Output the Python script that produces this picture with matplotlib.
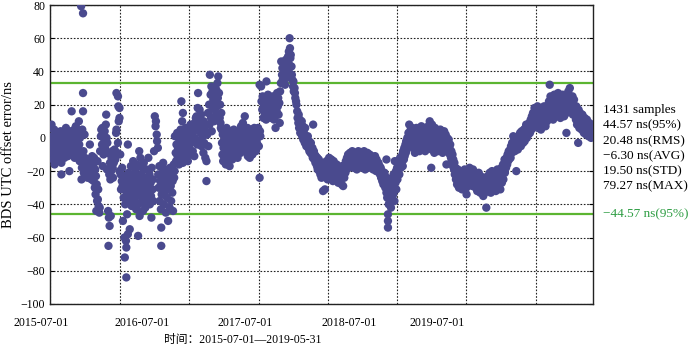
import numpy as np
import pandas as pd
import matplotlib
matplotlib.use("Agg")
import matplotlib.pyplot as plt

# daily BDS-UTC offset error
# (day offset from 2015-07-01, error in ns), grouped by period

# 2015-07 .. 2016-01
g1_day = [
    0, 1, 2, 4, 5, 6, 8, 9, 11, 12,
    13, 15, 16, 18, 19, 21, 22, 24, 25, 27,
    28, 30, 30, 32, 33, 35, 36, 38, 39, 41,
    42, 44, 45, 47, 48, 50, 51, 53, 54, 56,
    57, 58, 59, 61, 62, 64, 65, 67, 68, 70,
    71, 73, 74, 76, 77, 78, 79, 81, 82, 83,
    84, 85, 86, 87, 87, 87, 88, 89, 90, 91,
    92, 93, 95, 96, 98, 99, 101, 102, 104, 105,
    106, 108, 109, 111, 112, 114, 115, 116, 118, 119,
    120, 121, 122, 123, 124, 125, 126, 127, 128, 130,
    131, 132, 134, 135, 137, 138, 139, 140, 141, 143,
    144, 145, 147, 148, 149, 150, 151, 152, 153, 154,
    155, 156, 157, 158, 159, 160, 161, 162, 164, 165,
    166, 168, 170, 172, 174, 175, 175, 177, 179, 179,
    180, 181, 183, 183, 183, 185, 186, 187, 189, 190,
]
g1_ns = [
    6, -2, -9, 8, -4, 1, -13, -7, 5, -16,
    -1, -10, 3, -5, -12, -3, 2, -8, -11, 0,
    4, -22, -15, -6, -2, 3, -9, -12, 1, -4,
    6, -7, -1, -11, 3, -5, -20, 0, -8, 4,
    16, -3, -10, 2, -6, 5, -12, -2, 7, -9,
    -1, 3, -7, 10, -4, -14, 0, -10, 79.27, -25,
    -18, 5, -13, 75, 27, 16, -8, -21, -15, 2,
    -12, -23, -17, -20, -13, -24, -16, -19, -22, -4,
    -14, -18, -25, -11, -21, -16, -26, -12, -30, -19,
    -34, -23, -44, -28, -38, -14, -37, -31, -41, -45,
    -42, -8, 1, 5, -4, 6, -17, 2, -10, -1,
    4, -6, 8, 14, 0, -19, -3, -9, -44, -65,
    -48, -22, -53, -15, -25, -47, -20, -12, -8, -18,
    -24, -15, -7, -13, 3, 27, 5, -9, 25, -3,
    19, 10, 18, 12, -20, -10, -22, -31, -26, -18,
]

# 2016-01 .. 2016-08
g2_day = [
    191, 192, 194, 195, 196, 197, 198, 199, 200, 201,
    201, 202, 203, 204, 205, 205, 206, 207, 208, 210,
    211, 212, 213, 215, 216, 217, 219, 220, 221, 223,
    224, 225, 227, 228, 229, 230, 231, 232, 233, 235,
    236, 237, 238, 240, 241, 242, 243, 244, 245, 246,
    247, 248, 250, 251, 253, 254, 255, 257, 258, 259,
    261, 262, 263, 265, 266, 267, 268, 270, 271, 272,
    274, 276, 278, 279, 281, 282, 284, 285, 286, 288,
    289, 290, 292, 293, 293, 294, 296, 297, 298, 300,
    301, 303, 304, 305, 307, 308, 310, 311, 312, 314,
    315, 316, 318, 319, 320, 322, 323, 324, 326, 327,
    328, 329, 331, 332, 333, 335, 336, 337, 339, 340,
    341, 343, 344, 345, 346, 347, 348, 350, 350, 351,
    353, 354, 355, 357, 358, 359, 361, 362, 363, 364,
    366, 367, 369, 370, 372, 373, 374, 376, 377, 378,
    380, 381, 382, 384, 385, 386, 388, 389, 390, 391,
    393, 394, 395, 397, 398, 399, 401, 402, 404, 405,
    406, 408, 409, 410, 412, 412,
]
g2_ns = [
    -29, -50, -36, -23, -60, -72, -40, -28, -62, -84,
    -66, -33, -46, -25, -58, -4, -38, -21, -30, -55,
    -27, -35, -17, -41, -24, -32, -14, -38, -28, -22,
    -36, -19, -43, -30, -16, -33, -25, -59, -40, -8,
    -47, -29, -12, -35, -22, -38, -18, -31, -44, -26,
    -15, -36, -24, -42, -28, -19, -33, -26, -38, -12,
    -30, -22, -40, -27, -35, -48, -18, -31, -25, -38,
    -8, 13, 7, 10, 2, -2, -6, -22, -30, -17,
    -38, -26, -43, -54, -65, -34, -21, -28, -15, -40,
    -24, -32, -19, -45, -27, -36, -22, -50, -31, -25,
    -42, -18, -29, -38, -21, -33, -26, -44, -16, -24,
    -20, 1, -9, -14, -4, 3, -11, -6, 0, -16,
    -2, -8, 5, -12, 22, -3, 10, 15, -15, -7,
    2, -10, -4, 6, -13, -1, -8, 4, -14, -5,
    -6, 3, -10, 8, 1, -3, 7, -8, -1, 4,
    -11, 9, 0, 12, 5, 13, -4, 18, 27, 8,
    -2, 17, 11, 3, 14, -5, 7, 1, -9, 10,
    -3, 5, -12, 2, -14, -26,
]

# 2016-08 .. 2017-07
g3_day = [
    414, 416, 417, 419, 420, 421, 423, 424, 425, 426,
    428, 429, 430, 432, 433, 434, 436, 437, 438, 440,
    441, 442, 443, 444, 445, 447, 448, 449, 450, 451,
    452, 453, 454, 455, 456, 457, 458, 459, 460, 461,
    462, 463, 464, 465, 466, 467, 468, 469, 470, 471,
    472, 473, 474, 476, 477, 478, 479, 480, 482, 483,
    484, 485, 487, 488, 489, 491, 492, 493, 494, 495,
    496, 497, 499, 500, 502, 503, 504, 506, 507, 508,
    510, 511, 512, 513, 515, 516, 517, 519, 520, 521,
    523, 524, 525, 526, 528, 529, 530, 532, 533, 534,
    536, 537, 538, 540, 541, 542, 544, 545, 546, 548,
    549, 550, 552, 552, 553, 554,
    556, 557, 559, 560, 562, 563, 565, 566, 567, 569,
    570, 571, 573, 574, 575, 577, 578, 579, 581, 582,
    583, 585, 586, 587, 589, 590, 591, 593, 594, 595,
    597, 598, 600, 601, 602, 604, 605, 606,
    608, 609, 611, 612, 613, 615, 616, 617, 619, 620,
    621, 622, 624, 625, 626, 627, 628, 629, 630, 631,
    632, 633, 634, 636, 637, 638, 640, 641, 642, 644,
    645, 646, 648, 649,
    651, 652, 654, 655, 656, 658, 659, 660, 662, 663,
    664, 666, 667, 668, 670, 671, 672, 674, 675, 676,
    678, 679, 680, 682, 683, 684, 686, 687, 688, 690,
    691, 692, 693, 695, 696, 697, 699, 700, 701, 703,
    704, 705, 707, 708, 709, 711, 712, 713, 715, 716,
    717, 719, 720, 721, 723,
]
g3_ns = [
    2, 15, -5, 20, 8, 38, 26, 12, 31, 4,
    28, 18, 23, 10, 21, 17, 25, 14, 29, 19,
    33, 24, 37, 13, 27, 12, 20, 9, 6, 15,
    5, -3, -10, 2, -14, -6, 4, -1, -12, -8,
    3, -16, -5, 6, -9, 0, -13, -4, 1, -11,
    -7, -17, 4, -2, -10, -6, 2, -13, -1, -8,
    5, -4, -11, 0, -7, 3, -9, -2, -12, -5,
    -2, 4, -6, 1, -9, 7, -3, 3, -7, 9,
    0, -4, 5, 13, -1, -8, 2, -5, 6, -11,
    -3, 3, -9, -12, 1, -6, 5, -2, -10, 4,
    -1, -7, 6, -4, 2, -8, 5, -3, 0, 6,
    3, -5, -24, 32, 4, 1,
    31, 22, 17, 25, 12, 20, 15, 24, 18, 11,
    34, 21, 14, 26, 19, 13, 23, 16, 21, 12,
    23, 18, 14, 25, 17, 11, 20, 13, 6, 22,
    16, 27, 19, 24, 14, 21, 9, 28,
    33, 46, 38, 42, 35, 41, 37, 44, 32, 40,
    47, 36, 43, 39, 45, 49, 41, 52, 44, 60,
    54, 48, 50, 43, 38, 35, 31, 34, 28, 30,
    27, 24, 22, 20,
    16, 12, 9, 14, 6, 11, 3, 8, 5, 10,
    1, 7, -1, 4, 2, -3, 6, 0, -5, -2,
    -4, 1, -6, -2, -8, -5, -9, -3, -7, -10,
    -6, -12, 8, -8, -13, -10, -15, -11, -14, -17,
    -12, -19, -16, -13, -20, -15, -22, -18, -24, -16,
    -21, -32, -19, -23, -17,
]

# 2017-07 .. 2018-06
g4_day = [
    724, 725, 727, 728, 729, 731, 732, 733, 735, 736,
    737, 739, 740, 741, 743, 744, 745, 747, 748, 749,
    751, 752, 753, 755, 756, 757, 759, 760, 761, 763,
    764, 765, 767, 768, 769, 771, 772, 773,
    775, 776, 778, 779, 781, 782, 784, 785, 787, 788,
    790, 791, 793, 794, 796, 797, 799, 800, 802, 803,
    805, 806, 808, 809, 811, 812, 814, 815, 817, 818,
    820, 821, 823, 824, 826, 827, 829, 830, 832, 833,
    835, 836, 838, 839, 841, 842, 844, 845, 847, 848,
    850, 851, 853, 854, 856, 857, 859, 860, 862, 863,
    865, 866, 868, 869, 871, 872, 874, 875, 877, 878,
    880, 881, 883, 884, 886, 886, 887, 888, 889, 890,
    890, 890, 891, 892, 893, 894, 895, 896, 898, 899,
    900, 901, 902, 904, 905, 906, 907, 908, 908, 910,
    911, 912, 914, 915, 916,
    917, 918, 920, 921, 922, 924, 925, 926, 928, 929,
    930, 932, 933, 934, 936, 937, 938, 940, 941, 942,
    944, 945, 946, 948, 949, 950, 952, 953, 954, 956,
    957, 958, 960, 961, 962, 964, 965, 966, 968, 969,
    970, 972, 973, 974, 976, 977, 978, 980, 981, 982,
    984, 985, 986, 988, 989, 990, 992, 993, 994, 996,
    997, 998, 1000, 1001, 1002, 1004, 1005, 1006, 1008, 1009,
    1010, 1012, 1013, 1014, 1016, 1017, 1018, 1020, 1021, 1022,
    1024, 1025, 1026, 1028, 1029, 1030, 1032, 1033, 1034, 1036,
    1037, 1038, 1040, 1041, 1042, 1044, 1045, 1046, 1048, 1049,
    1050, 1052, 1053, 1054, 1056, 1057,
]
g4_ns = [
    -31, -18, -22, -14, -20, -25, -16, -21, -12, -19,
    -24, -15, -20, -13, -22, -18, -26, -14, -21, -17,
    -23, -19, -25, -16, -22, -20, -27, -18, -24, -21,
    -26, -19, -23, -28, -17, -22, -29, -20,
    -24, -17, -21, -14, -19, -12, -18, -10, -16, -13,
    -9, -17, -11, -15, -8, -14, -18, -10, -16, -12,
    -9, -15, -19, -11, -14, -8, -17, -12, -10, -16,
    -13, -9, -18, -11, -15, -8, -14, -19, -10, -13,
    -16, -9, -12, -17, -14, -10, -18, -13, -11, -16,
    -12, -19, -14, -17, -11, -15, -20, -13, -18, -16,
    -15, -19, -17, -22, -18, -24, -20, -26, -23, -28,
    -25, -21, -30, -27, -13, -33, -24, -36, -29, -46,
    -50, -54, -32, -40, -27, -35, -38, -31, -42, -28,
    -36, -25, -33, -34, -22, -30, -38, -24, -14, -27,
    -20, -31, -18, -25, -21,
    -19, -14, -22, -16, -12, -18, -13, -15, -10, -17,
    -8, -13, -6, -11, -4, -9, -2, -7, 0, -5,
    3, -3, 8, 2, -1, 5, -4, 1, 6, -2,
    3, -6, 1, -9, 4, -3, 6, -1, -7, 2,
    -4, 5, -8, 0, 3, -5, 7, -2, 1, -6,
    4, -3, 6, -8, 2, -1, 5, -4, 0, 7,
    -6, 3, 10, -2, 5, -18, -7, 8, 1, -4,
    4, -9, 2, 6, -3, 0, -6, 3, -8, 1,
    -5, 2, -2, 5, -7, 0, 3, -4, -9, 1,
    -2, 4, -6, -1, 2, -16, -5, 0, -3, -8,
    -1, -6, -10, -4, -12, -8,
]

# 2018-06 .. 2019-05-31
g5_day = [
    1058, 1060, 1061, 1062, 1064, 1065, 1066, 1068, 1069, 1070,
    1072, 1073, 1074, 1076, 1077, 1078, 1080, 1081, 1082, 1084,
    1085, 1086, 1088, 1089, 1090, 1092, 1093, 1094, 1096, 1097,
    1098, 1100, 1101, 1102, 1104, 1105, 1106, 1108, 1109, 1110,
    1112, 1113, 1114, 1116, 1117, 1118, 1120, 1121, 1122, 1124,
    1125, 1126, 1128, 1129, 1130, 1132, 1133, 1134, 1136, 1137,
    1138, 1140, 1141, 1142, 1144, 1145, 1146, 1148, 1149, 1150,
    1152, 1153, 1154,
    1156, 1157, 1158, 1160, 1161, 1162, 1164, 1165, 1166, 1168,
    1169, 1170, 1172, 1173, 1174, 1176, 1177, 1178, 1180, 1181,
    1182, 1184, 1185, 1186, 1188, 1189, 1190, 1192, 1193, 1194,
    1196, 1197, 1198, 1200,
    1201, 1202, 1204, 1205, 1206, 1208, 1209, 1210, 1212, 1213,
    1214, 1216, 1217, 1218, 1220, 1221, 1222, 1224, 1225, 1226,
    1228, 1229, 1230, 1232, 1233,
    1234, 1236, 1237, 1238, 1240, 1241, 1242, 1244, 1245, 1246,
    1248, 1249, 1250, 1252, 1253, 1254, 1256, 1257, 1258, 1260,
    1261, 1262, 1264, 1265, 1266, 1268, 1269, 1270, 1272, 1273,
    1274, 1276, 1277,
    1278, 1280, 1281, 1282, 1284, 1285, 1286, 1288, 1289, 1290,
    1292, 1293, 1294, 1296, 1297, 1298, 1300, 1301, 1302, 1304,
    1305, 1306, 1308, 1309, 1310, 1312,
    1313, 1314, 1316, 1317, 1318, 1320, 1321, 1322, 1324, 1325,
    1326, 1328, 1329, 1330, 1332, 1333, 1334, 1336, 1337, 1338,
    1340, 1341, 1342, 1344, 1345, 1346, 1348, 1349, 1350, 1352,
    1353, 1354, 1356, 1357, 1358, 1360, 1360, 1361, 1362, 1364,
    1365, 1366, 1368, 1369, 1370, 1372, 1373, 1374, 1376, 1377,
    1378, 1380, 1381, 1382,
    1384, 1385, 1386, 1388, 1389, 1390, 1391, 1392, 1393, 1394,
    1396, 1397, 1398, 1400, 1401, 1402, 1404, 1405, 1406, 1408,
    1409, 1410, 1412, 1413, 1414, 1416, 1417, 1418, 1420, 1421,
    1422, 1424, 1425, 1426, 1428, 1429, 1430,
]
g5_ns = [
    -14, -10, -17, -13, -19, -15, -22, -18, -25, -20,
    -28, -23, -19, -26, -30, -21, -24, -28, -20, -25,
    -31, -22, -27, -24, -29, -19, -26, -31, -23, -34,
    -27, -21, -29, -25, -22, -18, -28, -24, -20, -26,
    -23, -29, -19, -25, -21, -27, -24, -30, -22, -26,
    -32, -25, -28, -21, -30, -26, -33, -23, -29, -25,
    -31, -27, -35, -29, -24, -33, -28, -30, -42, -26,
    -32, -23, -29,
    -24, -30, -21, -27, -33, -25, -20, -28, -23, -31,
    -26, -21, -29, -24, -32, -22, -27, -19, -30, -25,
    -22, -28, -20, -31, -24, -18, -27, -22, -16, -25,
    -19, -13, -21, -15,
    -18, -12, -16, -10, -14, -8, -13, -11, -7, -12,
    -5, -9, -3, -7, 1, -6, -2, -8, -4, -1,
    -20, -5, -3, -7, 0,
    -4, 1, -2, 3, -5, 0, 4, -1, 2, -3,
    5, 1, -2, 6, 3, 8, 0, 4, 7, 2,
    6, 9, 3, 8, 11, 5, 13, 9, 15, 7,
    12, 18, 10,
    14, 8, 17, 11, 19, 6, 13, 16, 9, 18,
    12, 5, 15, 10, 17, 8, 14, 19, 11, 16,
    7, 13, 18, 10, 15, 20,
    14, 22, 32, 18, 25, 12, 20, 16, 23, 11,
    19, 26, 15, 21, 13, 24, 18, 22, 14, 27,
    17, 21, 25, 12, 19, 23, 15, 20, 26, 16,
    22, 13, 24, 18, 21, 3, 15, 25, 19, 23,
    28, 17, 22, 30, 19, 24, 16, 21, 25, 14,
    20, 23, 17, 19,
    16, 11, 19, 8, 14, 10, -3, 17, 12, 6,
    15, 9, 13, 5, 11, 14, 7, 10, 3, 12,
    6, 9, 2, 8, 11, 4, 7, 1, 9, 5,
    3, 7, 0, 5, 2, 8, 6,
]

# 95% bounds drawn as green lines
upper_bound = 33.2
lower_bound = -46.0

stats_lines = ["1431 samples", "44.57 ns(95%)", "20.48 ns(RMS)",
               "\u22126.30 ns(AVG)", "19.50 ns(STD)", "79.27 ns(MAX)"]
bound_label = "\u221244.57 ns(95%)"

date_labels = ["2015-07-01", "2016-07-01", "2017-07-01", "2018-07-01", "2019-07-01"]
date_label_pos = [-0.017, 0.169, 0.359, 0.551, 0.713]  # where the labels sit (axes fraction)

start = pd.Timestamp("2015-07-01")
end = pd.Timestamp("2019-05-31")

groups = [(g1_day, g1_ns), (g2_day, g2_ns), (g3_day, g3_ns), (g4_day, g4_ns), (g5_day, g5_ns)]
for d, v in groups:
    assert len(d) == len(v), (len(d), len(v))
days = np.concatenate([np.array(d) for d, v in groups])
vals = np.concatenate([np.array(v, dtype=float) for d, v in groups])
dates = start + pd.to_timedelta(days, unit="D")

plt.rcParams["font.family"] = ["Liberation Serif", "Noto Sans CJK SC"]
plt.rcParams["axes.unicode_minus"] = True

fig = plt.figure(figsize=(7.0, 3.54), dpi=100)
ax = fig.add_axes([50 / 700, 1 - 304 / 354, 543 / 700, 299 / 354])

ax.axhline(upper_bound, color="#5cb531", lw=1.6, zorder=2)
ax.axhline(lower_bound, color="#5cb531", lw=1.6, zorder=2)
ax.scatter(dates, vals, s=36, color="#4a4a8e", edgecolors="none", zorder=3)

ax.set_xlim(start, end)
ax.set_ylim(-100, 80)
ax.set_yticks(np.arange(-100, 81, 20))

grid_dates = pd.date_range("2015-07-01", "2019-01-01", freq="6MS")
ax.set_xticks(grid_dates)
ax.set_xticklabels([])
ax.grid(True, color="#222222", linestyle=(0, (1.5, 1.5)), linewidth=0.8)
ax.tick_params(direction="in", length=3, labelsize=8.5, colors="black", top=True, right=True)
ax.tick_params(axis="x", length=0)
for s in ax.spines.values():
    s.set_linewidth(1.0)
    s.set_color("#222222")

for lab, pos in zip(date_labels, date_label_pos):
    ax.text(pos, -0.064, lab, transform=ax.transAxes, ha="center", va="center", fontsize=8.5)

ax.text(0.355, -0.12, "时间：2015-07-01—2019-05-31", transform=ax.transAxes,
        ha="center", va="center", fontsize=8.5)
fig.text(9 / 700, 1 - 155 / 354, "BDS UTC offset error/ns", rotation=90,
         ha="center", va="center", fontsize=10.5)

ax.text(1.018, 1 - (148.5 - 5) / 299, "\n".join(stats_lines), transform=ax.transAxes,
        ha="left", va="center", fontsize=9.5, linespacing=1.36)
ax.text(1.018, (lower_bound + 100) / 180, bound_label, transform=ax.transAxes,
        ha="left", va="center", fontsize=9.5, color="#2f9e44")

fig.savefig("out.png", dpi=100)
